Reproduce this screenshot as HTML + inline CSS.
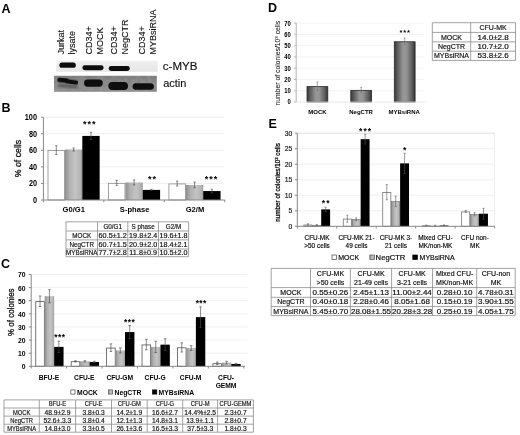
<!DOCTYPE html>
<html><head><meta charset="utf-8"><title>Figure</title>
<style>
html,body{margin:0;padding:0;background:#fff;}
body{width:520px;height:435px;overflow:hidden;}
svg{display:block;font-family:"Liberation Sans", sans-serif;will-change:transform;}
</style></head><body>
<svg width="520" height="435" viewBox="0 0 520 435">
<defs>
<linearGradient id="gGray" x1="0" x2="1" y1="0" y2="0">
<stop offset="0" stop-color="#8e8e8e"/><stop offset="0.25" stop-color="#b0b0b0"/><stop offset="0.6" stop-color="#c4c4c4"/><stop offset="0.9" stop-color="#b2b2b2"/><stop offset="1" stop-color="#979797"/>
</linearGradient>
<linearGradient id="gDark" x1="0" x2="1" y1="0" y2="0">
<stop offset="0" stop-color="#383838"/><stop offset="0.12" stop-color="#555"/><stop offset="0.42" stop-color="#979797"/><stop offset="0.58" stop-color="#959595"/><stop offset="0.85" stop-color="#5e5e5e"/><stop offset="1" stop-color="#333"/>
</linearGradient>
<filter id="bl" x="-30%" y="-80%" width="160%" height="260%"><feGaussianBlur stdDeviation="0.65"/></filter>
<filter id="bl2" x="-30%" y="-80%" width="160%" height="260%"><feGaussianBlur stdDeviation="1.2"/></filter>
<linearGradient id="gActin" x1="0" x2="0" y1="0" y2="1"><stop offset="0" stop-color="#747474"/><stop offset="0.5" stop-color="#808080"/><stop offset="1" stop-color="#868686"/></linearGradient>
<linearGradient id="gMyb" x1="0" x2="0" y1="0" y2="1"><stop offset="0" stop-color="#f0f0f0"/><stop offset="1" stop-color="#e6e6e6"/></linearGradient>
<filter id="noise" x="0" y="0" width="100%" height="100%">
<feTurbulence type="fractalNoise" baseFrequency="0.25" numOctaves="2" seed="3" result="t"/>
<feColorMatrix in="t" type="matrix" values="0 0 0 0 0.55  0 0 0 0 0.55  0 0 0 0 0.55  0 0 0 0.25 0" result="n"/>
<feComposite in="n" in2="SourceGraphic" operator="in" result="m"/>
<feMerge><feMergeNode in="SourceGraphic"/><feMergeNode in="m"/></feMerge>
</filter>
</defs>
<text x="1.60" y="13.40" font-size="12.5" font-weight="bold" text-anchor="start" fill="#000" >A</text>
<text transform="translate(64.00,54.60) rotate(-90) scale(0.94,1)" font-size="9.6" text-anchor="start" fill="#111" stroke="#111" stroke-width="0.12">Jurkat</text>
<text transform="translate(75.00,54.60) rotate(-90) scale(0.94,1)" font-size="9.6" text-anchor="start" fill="#111" stroke="#111" stroke-width="0.12">lysate</text>
<text transform="translate(92.30,54.60) rotate(-90) scale(0.94,1)" font-size="9.6" text-anchor="start" fill="#111" stroke="#111" stroke-width="0.12">CD34+</text>
<text transform="translate(102.60,54.60) rotate(-90) scale(0.94,1)" font-size="9.6" text-anchor="start" fill="#111" stroke="#111" stroke-width="0.12">MOCK</text>
<text transform="translate(117.20,54.60) rotate(-90) scale(0.94,1)" font-size="9.6" text-anchor="start" fill="#111" stroke="#111" stroke-width="0.12">CD34+</text>
<text transform="translate(127.80,54.60) rotate(-90) scale(0.94,1)" font-size="9.6" text-anchor="start" fill="#111" stroke="#111" stroke-width="0.12">NegCTR</text>
<text transform="translate(145.20,54.60) rotate(-90) scale(0.94,1)" font-size="9.6" text-anchor="start" fill="#111" stroke="#111" stroke-width="0.12">CD34+</text>
<text transform="translate(156.00,54.60) rotate(-90) scale(0.94,1)" font-size="9.6" text-anchor="start" fill="#111" stroke="#111" stroke-width="0.12">MYBsiRNA</text>
<rect x="56.30" y="60.90" width="101.40" height="10.90" fill="url(#gMyb)" stroke="none" stroke-width="1" />
<rect x="54.00" y="75.80" width="102.80" height="16.00" fill="url(#gActin)" stroke="none" stroke-width="1" filter="url(#noise)"/>
<rect x="59.40" y="62.60" width="16.40" height="5.20" rx="2.60" ry="2.60" fill="#0a0a0a" filter="url(#bl)" transform="rotate(0 67.60 65.20)"/>
<rect x="82.40" y="65.25" width="21.20" height="4.90" rx="2.45" ry="2.45" fill="#0a0a0a" filter="url(#bl)" transform="rotate(0 93.00 67.70)"/>
<rect x="108.70" y="66.05" width="21.10" height="4.90" rx="2.45" ry="2.45" fill="#0a0a0a" filter="url(#bl)" transform="rotate(0 119.25 68.50)"/>
<rect x="58.00" y="84.50" width="20.00" height="3.00" rx="1.50" ry="1.50" fill="#555" filter="url(#bl2)" transform="rotate(4 68.00 86.00)"/>
<rect x="57.40" y="78.00" width="11.60" height="4.40" rx="2.20" ry="2.20" fill="#0a0a0a" filter="url(#bl)" transform="rotate(5 63.20 80.20)"/>
<rect x="65.00" y="79.70" width="13.20" height="4.40" rx="2.20" ry="2.20" fill="#0a0a0a" filter="url(#bl)" transform="rotate(7 71.60 81.90)"/>
<rect x="84.00" y="79.50" width="18.80" height="7.20" rx="3.60" ry="3.60" fill="#0a0a0a" filter="url(#bl)" transform="rotate(0 93.40 83.10)"/>
<rect x="108.40" y="82.10" width="19.60" height="7.80" rx="3.90" ry="3.90" fill="#0a0a0a" filter="url(#bl)" transform="rotate(0 118.20 86.00)"/>
<rect x="132.60" y="83.20" width="21.20" height="6.60" rx="3.30" ry="3.30" fill="#0a0a0a" filter="url(#bl)" transform="rotate(0 143.20 86.50)"/>
<text transform="translate(162.8,70.3) scale(1.05,1)" font-size="11" fill="#111" stroke="#111" stroke-width="0.15">c-MYB</text>
<text x="163.2" y="87.4" font-size="11" fill="#111" stroke="#111" stroke-width="0.15">actin</text>
<line x1="43.40" y1="183.44" x2="224.50" y2="183.44" stroke="#ececec" stroke-width="0.8"/>
<line x1="43.40" y1="166.88" x2="224.50" y2="166.88" stroke="#ececec" stroke-width="0.8"/>
<line x1="43.40" y1="150.32" x2="224.50" y2="150.32" stroke="#ececec" stroke-width="0.8"/>
<line x1="43.40" y1="133.76" x2="224.50" y2="133.76" stroke="#ececec" stroke-width="0.8"/>
<line x1="43.40" y1="117.20" x2="224.50" y2="117.20" stroke="#ececec" stroke-width="0.8"/>
<rect x="48.00" y="150.47" width="16.55" height="49.53" fill="#fff" stroke="#8c8c8c" stroke-width="0.8" />
<line x1="56.28" y1="145.68" x2="56.28" y2="154.46" stroke="#4a4a4a" stroke-width="0.65"/>
<line x1="55.18" y1="145.68" x2="57.38" y2="145.68" stroke="#4a4a4a" stroke-width="0.65"/>
<line x1="55.18" y1="154.46" x2="57.38" y2="154.46" stroke="#4a4a4a" stroke-width="0.65"/>
<rect x="64.95" y="149.49" width="17.35" height="50.51" fill="url(#gGray)" stroke="none" stroke-width="1" />
<line x1="73.62" y1="148.00" x2="73.62" y2="150.98" stroke="#4a4a4a" stroke-width="0.65"/>
<line x1="72.53" y1="148.00" x2="74.72" y2="148.00" stroke="#4a4a4a" stroke-width="0.65"/>
<line x1="72.53" y1="150.98" x2="74.72" y2="150.98" stroke="#4a4a4a" stroke-width="0.65"/>
<rect x="82.30" y="135.91" width="17.35" height="64.09" fill="#000" stroke="none" stroke-width="1" />
<line x1="90.98" y1="132.27" x2="90.98" y2="139.56" stroke="#4a4a4a" stroke-width="0.65"/>
<line x1="89.88" y1="132.27" x2="92.08" y2="132.27" stroke="#4a4a4a" stroke-width="0.65"/>
<line x1="89.88" y1="139.56" x2="92.08" y2="139.56" stroke="#4a4a4a" stroke-width="0.65"/>
<rect x="108.45" y="183.34" width="16.55" height="16.66" fill="#fff" stroke="#8c8c8c" stroke-width="0.8" />
<line x1="116.72" y1="180.29" x2="116.72" y2="185.59" stroke="#4a4a4a" stroke-width="0.65"/>
<line x1="115.62" y1="180.29" x2="117.82" y2="180.29" stroke="#4a4a4a" stroke-width="0.65"/>
<line x1="115.62" y1="185.59" x2="117.82" y2="185.59" stroke="#4a4a4a" stroke-width="0.65"/>
<rect x="125.40" y="182.45" width="17.35" height="17.55" fill="url(#gGray)" stroke="none" stroke-width="1" />
<line x1="134.08" y1="179.96" x2="134.08" y2="184.93" stroke="#4a4a4a" stroke-width="0.65"/>
<line x1="132.98" y1="179.96" x2="135.18" y2="179.96" stroke="#4a4a4a" stroke-width="0.65"/>
<line x1="132.98" y1="184.93" x2="135.18" y2="184.93" stroke="#4a4a4a" stroke-width="0.65"/>
<rect x="142.75" y="189.90" width="17.35" height="10.10" fill="#000" stroke="none" stroke-width="1" />
<line x1="151.43" y1="189.32" x2="151.43" y2="190.48" stroke="#4a4a4a" stroke-width="0.65"/>
<line x1="150.33" y1="189.32" x2="152.53" y2="189.32" stroke="#4a4a4a" stroke-width="0.65"/>
<line x1="150.33" y1="190.48" x2="152.53" y2="190.48" stroke="#4a4a4a" stroke-width="0.65"/>
<rect x="168.90" y="183.92" width="16.55" height="16.08" fill="#fff" stroke="#8c8c8c" stroke-width="0.8" />
<line x1="177.18" y1="181.04" x2="177.18" y2="186.01" stroke="#4a4a4a" stroke-width="0.65"/>
<line x1="176.08" y1="181.04" x2="178.28" y2="181.04" stroke="#4a4a4a" stroke-width="0.65"/>
<line x1="176.08" y1="186.01" x2="178.28" y2="186.01" stroke="#4a4a4a" stroke-width="0.65"/>
<rect x="185.85" y="185.01" width="17.35" height="14.99" fill="url(#gGray)" stroke="none" stroke-width="1" />
<line x1="194.53" y1="182.12" x2="194.53" y2="187.91" stroke="#4a4a4a" stroke-width="0.65"/>
<line x1="193.43" y1="182.12" x2="195.62" y2="182.12" stroke="#4a4a4a" stroke-width="0.65"/>
<line x1="193.43" y1="187.91" x2="195.62" y2="187.91" stroke="#4a4a4a" stroke-width="0.65"/>
<rect x="203.20" y="191.06" width="17.35" height="8.94" fill="#000" stroke="none" stroke-width="1" />
<line x1="211.88" y1="189.24" x2="211.88" y2="192.88" stroke="#4a4a4a" stroke-width="0.65"/>
<line x1="210.78" y1="189.24" x2="212.97" y2="189.24" stroke="#4a4a4a" stroke-width="0.65"/>
<line x1="210.78" y1="192.88" x2="212.97" y2="192.88" stroke="#4a4a4a" stroke-width="0.65"/>
<line x1="43.40" y1="117.20" x2="43.40" y2="202.20" stroke="#888" stroke-width="1"/>
<line x1="43.40" y1="200.00" x2="224.80" y2="200.00" stroke="#888" stroke-width="1"/>
<line x1="41.00" y1="200.00" x2="43.40" y2="200.00" stroke="#888" stroke-width="1"/>
<line x1="41.00" y1="183.44" x2="43.40" y2="183.44" stroke="#888" stroke-width="1"/>
<line x1="41.00" y1="166.88" x2="43.40" y2="166.88" stroke="#888" stroke-width="1"/>
<line x1="41.00" y1="150.32" x2="43.40" y2="150.32" stroke="#888" stroke-width="1"/>
<line x1="41.00" y1="133.76" x2="43.40" y2="133.76" stroke="#888" stroke-width="1"/>
<line x1="41.00" y1="117.20" x2="43.40" y2="117.20" stroke="#888" stroke-width="1"/>
<line x1="103.85" y1="200.00" x2="103.85" y2="202.20" stroke="#888" stroke-width="1"/>
<line x1="164.30" y1="200.00" x2="164.30" y2="202.20" stroke="#888" stroke-width="1"/>
<line x1="224.75" y1="200.00" x2="224.75" y2="202.20" stroke="#888" stroke-width="1"/>
<text transform="translate(37.00,203.00) scale(0.87,1)" font-size="8.4" font-weight="bold" text-anchor="end" fill="#000">0</text>
<text transform="translate(37.00,186.44) scale(0.87,1)" font-size="8.4" font-weight="bold" text-anchor="end" fill="#000">20</text>
<text transform="translate(37.00,169.88) scale(0.87,1)" font-size="8.4" font-weight="bold" text-anchor="end" fill="#000">40</text>
<text transform="translate(37.00,153.32) scale(0.87,1)" font-size="8.4" font-weight="bold" text-anchor="end" fill="#000">60</text>
<text transform="translate(37.00,136.76) scale(0.87,1)" font-size="8.4" font-weight="bold" text-anchor="end" fill="#000">80</text>
<text transform="translate(37.00,120.20) scale(0.87,1)" font-size="8.4" font-weight="bold" text-anchor="end" fill="#000">100</text>
<text x="1.40" y="112.20" font-size="12.5" font-weight="bold" text-anchor="start" fill="#000" >B</text>
<text transform="translate(21.00,158.50) rotate(-90) scale(0.93,1)" font-size="9.4" text-anchor="middle" fill="#111" stroke="#111" stroke-width="0.3">% of cells</text>
<text x="73.70" y="212.20" font-size="7.6" font-weight="bold" text-anchor="middle" fill="#000" >G0/G1</text>
<text x="134.60" y="212.20" font-size="7.6" font-weight="bold" text-anchor="middle" fill="#000" >S-phase</text>
<text x="195.00" y="212.20" font-size="7.6" font-weight="bold" text-anchor="middle" fill="#000" >G2/M</text>
<text x="84.80" y="127.38" font-size="9.0" font-weight="bold" text-anchor="middle" fill="#000">*</text>
<text x="89.30" y="127.38" font-size="9.0" font-weight="bold" text-anchor="middle" fill="#000">*</text>
<text x="93.80" y="127.38" font-size="9.0" font-weight="bold" text-anchor="middle" fill="#000">*</text>
<text x="149.85" y="181.88" font-size="9.0" font-weight="bold" text-anchor="middle" fill="#000">*</text>
<text x="154.35" y="181.88" font-size="9.0" font-weight="bold" text-anchor="middle" fill="#000">*</text>
<text x="206.50" y="182.18" font-size="9.0" font-weight="bold" text-anchor="middle" fill="#000">*</text>
<text x="211.00" y="182.18" font-size="9.0" font-weight="bold" text-anchor="middle" fill="#000">*</text>
<text x="215.50" y="182.18" font-size="9.0" font-weight="bold" text-anchor="middle" fill="#000">*</text>
<line x1="31.20" y1="353.18" x2="247.50" y2="353.18" stroke="#ececec" stroke-width="0.8"/>
<line x1="31.20" y1="340.06" x2="247.50" y2="340.06" stroke="#ececec" stroke-width="0.8"/>
<line x1="31.20" y1="326.94" x2="247.50" y2="326.94" stroke="#ececec" stroke-width="0.8"/>
<line x1="31.20" y1="313.82" x2="247.50" y2="313.82" stroke="#ececec" stroke-width="0.8"/>
<line x1="31.20" y1="300.70" x2="247.50" y2="300.70" stroke="#ececec" stroke-width="0.8"/>
<line x1="31.20" y1="287.58" x2="247.50" y2="287.58" stroke="#ececec" stroke-width="0.8"/>
<line x1="31.20" y1="274.46" x2="247.50" y2="274.46" stroke="#ececec" stroke-width="0.8"/>
<rect x="35.75" y="301.62" width="8.60" height="64.68" fill="#fff" stroke="#555" stroke-width="0.8" />
<line x1="40.05" y1="295.98" x2="40.05" y2="306.47" stroke="#4a4a4a" stroke-width="0.65"/>
<line x1="38.75" y1="295.98" x2="41.35" y2="295.98" stroke="#4a4a4a" stroke-width="0.65"/>
<line x1="38.75" y1="306.47" x2="41.35" y2="306.47" stroke="#4a4a4a" stroke-width="0.65"/>
<rect x="44.75" y="296.24" width="9.40" height="70.06" fill="url(#gGray)" stroke="none" stroke-width="1" />
<line x1="49.45" y1="289.68" x2="49.45" y2="302.80" stroke="#4a4a4a" stroke-width="0.65"/>
<line x1="48.15" y1="289.68" x2="50.75" y2="289.68" stroke="#4a4a4a" stroke-width="0.65"/>
<line x1="48.15" y1="302.80" x2="50.75" y2="302.80" stroke="#4a4a4a" stroke-width="0.65"/>
<rect x="54.15" y="346.88" width="9.40" height="19.42" fill="#000" stroke="none" stroke-width="1" />
<line x1="58.85" y1="341.24" x2="58.85" y2="352.52" stroke="#4a4a4a" stroke-width="0.65"/>
<line x1="57.55" y1="341.24" x2="60.15" y2="341.24" stroke="#4a4a4a" stroke-width="0.65"/>
<line x1="57.55" y1="352.52" x2="60.15" y2="352.52" stroke="#4a4a4a" stroke-width="0.65"/>
<rect x="71.18" y="361.71" width="8.60" height="4.59" fill="#fff" stroke="#555" stroke-width="0.8" />
<line x1="75.48" y1="360.79" x2="75.48" y2="361.84" stroke="#4a4a4a" stroke-width="0.65"/>
<line x1="74.18" y1="360.79" x2="76.78" y2="360.79" stroke="#4a4a4a" stroke-width="0.65"/>
<line x1="74.18" y1="361.84" x2="76.78" y2="361.84" stroke="#4a4a4a" stroke-width="0.65"/>
<rect x="80.18" y="361.31" width="9.40" height="4.99" fill="url(#gGray)" stroke="none" stroke-width="1" />
<line x1="84.88" y1="360.66" x2="84.88" y2="361.97" stroke="#4a4a4a" stroke-width="0.65"/>
<line x1="83.58" y1="360.66" x2="86.18" y2="360.66" stroke="#4a4a4a" stroke-width="0.65"/>
<line x1="83.58" y1="361.97" x2="86.18" y2="361.97" stroke="#4a4a4a" stroke-width="0.65"/>
<rect x="89.58" y="361.97" width="9.40" height="4.33" fill="#000" stroke="none" stroke-width="1" />
<line x1="94.28" y1="361.31" x2="94.28" y2="362.63" stroke="#4a4a4a" stroke-width="0.65"/>
<line x1="92.98" y1="361.31" x2="95.58" y2="361.31" stroke="#4a4a4a" stroke-width="0.65"/>
<line x1="92.98" y1="362.63" x2="95.58" y2="362.63" stroke="#4a4a4a" stroke-width="0.65"/>
<rect x="106.61" y="348.07" width="8.60" height="18.23" fill="#fff" stroke="#555" stroke-width="0.8" />
<line x1="110.91" y1="343.86" x2="110.91" y2="351.47" stroke="#4a4a4a" stroke-width="0.65"/>
<line x1="109.61" y1="343.86" x2="112.21" y2="343.86" stroke="#4a4a4a" stroke-width="0.65"/>
<line x1="109.61" y1="351.47" x2="112.21" y2="351.47" stroke="#4a4a4a" stroke-width="0.65"/>
<rect x="115.61" y="350.42" width="9.40" height="15.88" fill="url(#gGray)" stroke="none" stroke-width="1" />
<line x1="120.31" y1="347.93" x2="120.31" y2="352.92" stroke="#4a4a4a" stroke-width="0.65"/>
<line x1="119.01" y1="347.93" x2="121.61" y2="347.93" stroke="#4a4a4a" stroke-width="0.65"/>
<line x1="119.01" y1="352.92" x2="121.61" y2="352.92" stroke="#4a4a4a" stroke-width="0.65"/>
<rect x="125.01" y="332.06" width="9.40" height="34.24" fill="#000" stroke="none" stroke-width="1" />
<line x1="129.71" y1="325.50" x2="129.71" y2="338.62" stroke="#4a4a4a" stroke-width="0.65"/>
<line x1="128.41" y1="325.50" x2="131.01" y2="325.50" stroke="#4a4a4a" stroke-width="0.65"/>
<line x1="128.41" y1="338.62" x2="131.01" y2="338.62" stroke="#4a4a4a" stroke-width="0.65"/>
<rect x="142.04" y="344.92" width="8.60" height="21.38" fill="#fff" stroke="#555" stroke-width="0.8" />
<line x1="146.34" y1="339.27" x2="146.34" y2="349.77" stroke="#4a4a4a" stroke-width="0.65"/>
<line x1="145.04" y1="339.27" x2="147.64" y2="339.27" stroke="#4a4a4a" stroke-width="0.65"/>
<line x1="145.04" y1="349.77" x2="147.64" y2="349.77" stroke="#4a4a4a" stroke-width="0.65"/>
<rect x="151.04" y="346.88" width="9.40" height="19.42" fill="url(#gGray)" stroke="none" stroke-width="1" />
<line x1="155.74" y1="341.24" x2="155.74" y2="352.52" stroke="#4a4a4a" stroke-width="0.65"/>
<line x1="154.44" y1="341.24" x2="157.04" y2="341.24" stroke="#4a4a4a" stroke-width="0.65"/>
<line x1="154.44" y1="352.52" x2="157.04" y2="352.52" stroke="#4a4a4a" stroke-width="0.65"/>
<rect x="160.44" y="344.65" width="9.40" height="21.65" fill="#000" stroke="none" stroke-width="1" />
<line x1="165.14" y1="338.75" x2="165.14" y2="350.56" stroke="#4a4a4a" stroke-width="0.65"/>
<line x1="163.84" y1="338.75" x2="166.44" y2="338.75" stroke="#4a4a4a" stroke-width="0.65"/>
<line x1="163.84" y1="350.56" x2="166.44" y2="350.56" stroke="#4a4a4a" stroke-width="0.65"/>
<rect x="177.47" y="347.81" width="8.60" height="18.49" fill="#fff" stroke="#555" stroke-width="0.8" />
<line x1="181.77" y1="342.82" x2="181.77" y2="352.00" stroke="#4a4a4a" stroke-width="0.65"/>
<line x1="180.47" y1="342.82" x2="183.07" y2="342.82" stroke="#4a4a4a" stroke-width="0.65"/>
<line x1="180.47" y1="352.00" x2="183.07" y2="352.00" stroke="#4a4a4a" stroke-width="0.65"/>
<rect x="186.47" y="348.06" width="9.40" height="18.24" fill="url(#gGray)" stroke="none" stroke-width="1" />
<line x1="191.17" y1="345.70" x2="191.17" y2="350.42" stroke="#4a4a4a" stroke-width="0.65"/>
<line x1="189.87" y1="345.70" x2="192.47" y2="345.70" stroke="#4a4a4a" stroke-width="0.65"/>
<line x1="189.87" y1="350.42" x2="192.47" y2="350.42" stroke="#4a4a4a" stroke-width="0.65"/>
<rect x="195.87" y="317.10" width="9.40" height="49.20" fill="#000" stroke="none" stroke-width="1" />
<line x1="200.57" y1="306.87" x2="200.57" y2="327.33" stroke="#4a4a4a" stroke-width="0.65"/>
<line x1="199.27" y1="306.87" x2="201.87" y2="306.87" stroke="#4a4a4a" stroke-width="0.65"/>
<line x1="199.27" y1="327.33" x2="201.87" y2="327.33" stroke="#4a4a4a" stroke-width="0.65"/>
<rect x="212.90" y="363.68" width="8.60" height="2.62" fill="#fff" stroke="#555" stroke-width="0.8" />
<line x1="217.20" y1="361.97" x2="217.20" y2="364.59" stroke="#4a4a4a" stroke-width="0.65"/>
<line x1="215.90" y1="361.97" x2="218.50" y2="361.97" stroke="#4a4a4a" stroke-width="0.65"/>
<line x1="215.90" y1="364.59" x2="218.50" y2="364.59" stroke="#4a4a4a" stroke-width="0.65"/>
<rect x="221.90" y="362.63" width="9.40" height="3.67" fill="url(#gGray)" stroke="none" stroke-width="1" />
<line x1="226.60" y1="361.31" x2="226.60" y2="363.94" stroke="#4a4a4a" stroke-width="0.65"/>
<line x1="225.30" y1="361.31" x2="227.90" y2="361.31" stroke="#4a4a4a" stroke-width="0.65"/>
<line x1="225.30" y1="363.94" x2="227.90" y2="363.94" stroke="#4a4a4a" stroke-width="0.65"/>
<rect x="231.30" y="363.94" width="9.40" height="2.36" fill="#000" stroke="none" stroke-width="1" />
<line x1="236.00" y1="363.41" x2="236.00" y2="364.46" stroke="#4a4a4a" stroke-width="0.65"/>
<line x1="234.70" y1="363.41" x2="237.30" y2="363.41" stroke="#4a4a4a" stroke-width="0.65"/>
<line x1="234.70" y1="364.46" x2="237.30" y2="364.46" stroke="#4a4a4a" stroke-width="0.65"/>
<line x1="31.20" y1="274.46" x2="31.20" y2="368.50" stroke="#888" stroke-width="1"/>
<line x1="31.20" y1="366.30" x2="245.00" y2="366.30" stroke="#888" stroke-width="1"/>
<line x1="28.80" y1="366.30" x2="31.20" y2="366.30" stroke="#888" stroke-width="1"/>
<line x1="28.80" y1="353.18" x2="31.20" y2="353.18" stroke="#888" stroke-width="1"/>
<line x1="28.80" y1="340.06" x2="31.20" y2="340.06" stroke="#888" stroke-width="1"/>
<line x1="28.80" y1="326.94" x2="31.20" y2="326.94" stroke="#888" stroke-width="1"/>
<line x1="28.80" y1="313.82" x2="31.20" y2="313.82" stroke="#888" stroke-width="1"/>
<line x1="28.80" y1="300.70" x2="31.20" y2="300.70" stroke="#888" stroke-width="1"/>
<line x1="28.80" y1="287.58" x2="31.20" y2="287.58" stroke="#888" stroke-width="1"/>
<line x1="28.80" y1="274.46" x2="31.20" y2="274.46" stroke="#888" stroke-width="1"/>
<line x1="66.63" y1="366.30" x2="66.63" y2="368.50" stroke="#888" stroke-width="1"/>
<line x1="102.06" y1="366.30" x2="102.06" y2="368.50" stroke="#888" stroke-width="1"/>
<line x1="137.49" y1="366.30" x2="137.49" y2="368.50" stroke="#888" stroke-width="1"/>
<line x1="172.92" y1="366.30" x2="172.92" y2="368.50" stroke="#888" stroke-width="1"/>
<line x1="208.35" y1="366.30" x2="208.35" y2="368.50" stroke="#888" stroke-width="1"/>
<line x1="243.78" y1="366.30" x2="243.78" y2="368.50" stroke="#888" stroke-width="1"/>
<text transform="translate(25.60,369.30) scale(1.0,1)" font-size="6.8" font-weight="bold" text-anchor="end" fill="#000">0</text>
<text transform="translate(25.60,356.18) scale(1.0,1)" font-size="6.8" font-weight="bold" text-anchor="end" fill="#000">10</text>
<text transform="translate(25.60,343.06) scale(1.0,1)" font-size="6.8" font-weight="bold" text-anchor="end" fill="#000">20</text>
<text transform="translate(25.60,329.94) scale(1.0,1)" font-size="6.8" font-weight="bold" text-anchor="end" fill="#000">30</text>
<text transform="translate(25.60,316.82) scale(1.0,1)" font-size="6.8" font-weight="bold" text-anchor="end" fill="#000">40</text>
<text transform="translate(25.60,303.70) scale(1.0,1)" font-size="6.8" font-weight="bold" text-anchor="end" fill="#000">50</text>
<text transform="translate(25.60,290.58) scale(1.0,1)" font-size="6.8" font-weight="bold" text-anchor="end" fill="#000">60</text>
<text transform="translate(25.60,277.46) scale(1.0,1)" font-size="6.8" font-weight="bold" text-anchor="end" fill="#000">70</text>
<text x="1.00" y="268.20" font-size="12.5" font-weight="bold" text-anchor="start" fill="#000" >C</text>
<text transform="translate(14.20,312.20) rotate(-90) scale(0.93,1)" font-size="8.6" text-anchor="middle" fill="#111" stroke="#111" stroke-width="0.3">% of colonies</text>
<text x="48.91" y="380.00" font-size="6.7" font-weight="bold" text-anchor="middle" fill="#000" >BFU-E</text>
<text x="84.34" y="380.00" font-size="6.7" font-weight="bold" text-anchor="middle" fill="#000" >CFU-E</text>
<text x="119.78" y="380.00" font-size="6.7" font-weight="bold" text-anchor="middle" fill="#000" >CFU-GM</text>
<text x="155.20" y="380.00" font-size="6.7" font-weight="bold" text-anchor="middle" fill="#000" >CFU-G</text>
<text x="190.63" y="380.00" font-size="6.7" font-weight="bold" text-anchor="middle" fill="#000" >CFU-M</text>
<text x="226.06" y="379.60" font-size="6.7" font-weight="bold" text-anchor="middle" fill="#000" >CFU-</text>
<text x="226.06" y="388.20" font-size="6.7" font-weight="bold" text-anchor="middle" fill="#000" >GEMM</text>
<text x="55.90" y="339.77" font-size="8.4" font-weight="bold" text-anchor="middle" fill="#000">*</text>
<text x="59.60" y="339.77" font-size="8.4" font-weight="bold" text-anchor="middle" fill="#000">*</text>
<text x="63.30" y="339.77" font-size="8.4" font-weight="bold" text-anchor="middle" fill="#000">*</text>
<text x="125.70" y="325.17" font-size="8.4" font-weight="bold" text-anchor="middle" fill="#000">*</text>
<text x="129.40" y="325.17" font-size="8.4" font-weight="bold" text-anchor="middle" fill="#000">*</text>
<text x="133.10" y="325.17" font-size="8.4" font-weight="bold" text-anchor="middle" fill="#000">*</text>
<text x="197.30" y="305.87" font-size="8.4" font-weight="bold" text-anchor="middle" fill="#000">*</text>
<text x="201.00" y="305.87" font-size="8.4" font-weight="bold" text-anchor="middle" fill="#000">*</text>
<text x="204.70" y="305.87" font-size="8.4" font-weight="bold" text-anchor="middle" fill="#000">*</text>
<rect x="70.80" y="389.90" width="4.20" height="4.20" fill="#fff" stroke="#444" stroke-width="0.7" />
<text x="77.00" y="394.60" font-size="6.8" font-weight="bold" text-anchor="start" fill="#000" >MOCK</text>
<rect x="108.40" y="389.90" width="4.20" height="4.20" fill="url(#gGray)" stroke="#555" stroke-width="0.7" />
<text x="114.50" y="394.60" font-size="6.8" font-weight="bold" text-anchor="start" fill="#000" >NegCTR</text>
<rect x="152.60" y="389.90" width="4.20" height="4.20" fill="#000" stroke="#000" stroke-width="0.7" />
<text x="158.60" y="394.60" font-size="6.8" font-weight="bold" text-anchor="start" fill="#000" >MYBsiRNA</text>
<line x1="296.20" y1="90.73" x2="424.00" y2="90.73" stroke="#efefef" stroke-width="0.8"/>
<line x1="296.20" y1="79.46" x2="424.00" y2="79.46" stroke="#efefef" stroke-width="0.8"/>
<line x1="296.20" y1="68.19" x2="424.00" y2="68.19" stroke="#efefef" stroke-width="0.8"/>
<line x1="296.20" y1="56.92" x2="424.00" y2="56.92" stroke="#efefef" stroke-width="0.8"/>
<line x1="296.20" y1="45.65" x2="424.00" y2="45.65" stroke="#efefef" stroke-width="0.8"/>
<line x1="296.20" y1="34.38" x2="424.00" y2="34.38" stroke="#efefef" stroke-width="0.8"/>
<line x1="296.20" y1="23.11" x2="424.00" y2="23.11" stroke="#efefef" stroke-width="0.8"/>
<rect x="307.00" y="86.62" width="20.80" height="15.38" fill="url(#gDark)" stroke="#2a2a2a" stroke-width="0.8" />
<line x1="317.40" y1="81.94" x2="317.40" y2="90.50" stroke="#707070" stroke-width="0.6"/>
<line x1="316.50" y1="81.94" x2="318.30" y2="81.94" stroke="#707070" stroke-width="0.6"/>
<line x1="316.50" y1="90.50" x2="318.30" y2="90.50" stroke="#707070" stroke-width="0.6"/>
<rect x="350.80" y="90.34" width="20.80" height="11.66" fill="url(#gDark)" stroke="#2a2a2a" stroke-width="0.8" />
<line x1="361.20" y1="87.35" x2="361.20" y2="92.53" stroke="#707070" stroke-width="0.6"/>
<line x1="360.30" y1="87.35" x2="362.10" y2="87.35" stroke="#707070" stroke-width="0.6"/>
<line x1="360.30" y1="92.53" x2="362.10" y2="92.53" stroke="#707070" stroke-width="0.6"/>
<rect x="394.30" y="41.77" width="20.80" height="60.23" fill="url(#gDark)" stroke="#2a2a2a" stroke-width="0.8" />
<line x1="404.70" y1="37.99" x2="404.70" y2="44.75" stroke="#707070" stroke-width="0.6"/>
<line x1="403.80" y1="37.99" x2="405.60" y2="37.99" stroke="#707070" stroke-width="0.6"/>
<line x1="403.80" y1="44.75" x2="405.60" y2="44.75" stroke="#707070" stroke-width="0.6"/>
<line x1="296.20" y1="23.11" x2="296.20" y2="102.00" stroke="#b4b4b4" stroke-width="1"/>
<line x1="296.20" y1="102.00" x2="426.50" y2="102.00" stroke="#e4e4e4" stroke-width="0.8"/>
<line x1="294.20" y1="102.00" x2="296.20" y2="102.00" stroke="#b4b4b4" stroke-width="1"/>
<text transform="translate(290.8,104.40) scale(0.92,1)" font-size="6.4" font-weight="bold" text-anchor="end">0</text>
<line x1="294.20" y1="90.73" x2="296.20" y2="90.73" stroke="#b4b4b4" stroke-width="1"/>
<text transform="translate(290.8,93.13) scale(0.92,1)" font-size="6.4" font-weight="bold" text-anchor="end">10</text>
<line x1="294.20" y1="79.46" x2="296.20" y2="79.46" stroke="#b4b4b4" stroke-width="1"/>
<text transform="translate(290.8,81.86) scale(0.92,1)" font-size="6.4" font-weight="bold" text-anchor="end">20</text>
<line x1="294.20" y1="68.19" x2="296.20" y2="68.19" stroke="#b4b4b4" stroke-width="1"/>
<text transform="translate(290.8,70.59) scale(0.92,1)" font-size="6.4" font-weight="bold" text-anchor="end">30</text>
<line x1="294.20" y1="56.92" x2="296.20" y2="56.92" stroke="#b4b4b4" stroke-width="1"/>
<text transform="translate(290.8,59.32) scale(0.92,1)" font-size="6.4" font-weight="bold" text-anchor="end">40</text>
<line x1="294.20" y1="45.65" x2="296.20" y2="45.65" stroke="#b4b4b4" stroke-width="1"/>
<text transform="translate(290.8,48.05) scale(0.92,1)" font-size="6.4" font-weight="bold" text-anchor="end">50</text>
<line x1="294.20" y1="34.38" x2="296.20" y2="34.38" stroke="#b4b4b4" stroke-width="1"/>
<text transform="translate(290.8,36.78) scale(0.92,1)" font-size="6.4" font-weight="bold" text-anchor="end">60</text>
<line x1="294.20" y1="23.11" x2="296.20" y2="23.11" stroke="#b4b4b4" stroke-width="1"/>
<text transform="translate(290.8,25.51) scale(0.92,1)" font-size="6.4" font-weight="bold" text-anchor="end">70</text>
<text x="268.00" y="12.20" font-size="12.5" font-weight="bold" text-anchor="start" fill="#000" >D</text>
<text transform="translate(280.0,63.1) rotate(-90) scale(1.03,1)" font-size="6.6" text-anchor="middle" fill="#111" stroke="#111" stroke-width="0.05">number of colonies/10<tspan font-size="4.2" dy="-2.4">3</tspan><tspan dy="2.4"> cells</tspan></text>
<text x="317.50" y="114.20" font-size="6.0" font-weight="bold" text-anchor="middle" fill="#000" >MOCK</text>
<text x="361.10" y="114.20" font-size="6.0" font-weight="bold" text-anchor="middle" fill="#000" >NegCTR</text>
<text x="404.20" y="114.20" font-size="6.0" font-weight="bold" text-anchor="middle" fill="#000" >MYBsiRNA</text>
<text x="401.10" y="34.85" font-size="7.6" font-weight="bold" text-anchor="middle" fill="#000">*</text>
<text x="404.80" y="34.85" font-size="7.6" font-weight="bold" text-anchor="middle" fill="#000">*</text>
<text x="408.50" y="34.85" font-size="7.6" font-weight="bold" text-anchor="middle" fill="#000">*</text>
<line x1="297.30" y1="210.79" x2="494.60" y2="210.79" stroke="#ececec" stroke-width="0.8"/>
<line x1="297.30" y1="195.27" x2="494.60" y2="195.27" stroke="#ececec" stroke-width="0.8"/>
<line x1="297.30" y1="179.75" x2="494.60" y2="179.75" stroke="#ececec" stroke-width="0.8"/>
<line x1="297.30" y1="164.24" x2="494.60" y2="164.24" stroke="#ececec" stroke-width="0.8"/>
<line x1="297.30" y1="148.73" x2="494.60" y2="148.73" stroke="#ececec" stroke-width="0.8"/>
<line x1="297.30" y1="133.21" x2="494.60" y2="133.21" stroke="#d8d8d8" stroke-width="0.8"/>
<line x1="494.60" y1="133.21" x2="494.60" y2="226.30" stroke="#e8e8e8" stroke-width="0.8"/>
<rect x="303.80" y="224.99" width="8.10" height="1.31" fill="#fff" stroke="#777" stroke-width="0.8" />
<line x1="307.85" y1="223.79" x2="307.85" y2="225.40" stroke="#555" stroke-width="0.6"/>
<line x1="306.85" y1="223.79" x2="308.85" y2="223.79" stroke="#555" stroke-width="0.6"/>
<line x1="306.85" y1="225.40" x2="308.85" y2="225.40" stroke="#555" stroke-width="0.6"/>
<rect x="312.60" y="225.36" width="8.30" height="0.94" fill="url(#gGray)" stroke="#6a6a6a" stroke-width="0.6" />
<line x1="316.75" y1="224.50" x2="316.75" y2="225.62" stroke="#555" stroke-width="0.6"/>
<line x1="315.75" y1="224.50" x2="317.75" y2="224.50" stroke="#555" stroke-width="0.6"/>
<line x1="315.75" y1="225.62" x2="317.75" y2="225.62" stroke="#555" stroke-width="0.6"/>
<rect x="321.20" y="209.39" width="8.90" height="16.91" fill="#000" stroke="none" stroke-width="1" />
<line x1="325.65" y1="207.22" x2="325.65" y2="211.56" stroke="#555" stroke-width="0.6"/>
<line x1="324.65" y1="207.22" x2="326.65" y2="207.22" stroke="#555" stroke-width="0.6"/>
<line x1="324.65" y1="211.56" x2="326.65" y2="211.56" stroke="#555" stroke-width="0.6"/>
<rect x="343.26" y="219.10" width="8.10" height="7.20" fill="#fff" stroke="#777" stroke-width="0.8" />
<line x1="347.31" y1="215.19" x2="347.31" y2="222.20" stroke="#555" stroke-width="0.6"/>
<line x1="346.31" y1="215.19" x2="348.31" y2="215.19" stroke="#555" stroke-width="0.6"/>
<line x1="346.31" y1="222.20" x2="348.31" y2="222.20" stroke="#555" stroke-width="0.6"/>
<rect x="352.06" y="219.53" width="8.30" height="6.77" fill="url(#gGray)" stroke="#6a6a6a" stroke-width="0.6" />
<line x1="356.21" y1="217.80" x2="356.21" y2="220.65" stroke="#555" stroke-width="0.6"/>
<line x1="355.21" y1="217.80" x2="357.21" y2="217.80" stroke="#555" stroke-width="0.6"/>
<line x1="355.21" y1="220.65" x2="357.21" y2="220.65" stroke="#555" stroke-width="0.6"/>
<rect x="360.66" y="139.17" width="8.90" height="87.13" fill="#000" stroke="none" stroke-width="1" />
<line x1="365.11" y1="134.36" x2="365.11" y2="143.98" stroke="#555" stroke-width="0.6"/>
<line x1="364.11" y1="134.36" x2="366.11" y2="134.36" stroke="#555" stroke-width="0.6"/>
<line x1="364.11" y1="143.98" x2="366.11" y2="143.98" stroke="#555" stroke-width="0.6"/>
<rect x="382.72" y="192.57" width="8.10" height="33.73" fill="#fff" stroke="#777" stroke-width="0.8" />
<line x1="386.77" y1="184.60" x2="386.77" y2="199.74" stroke="#555" stroke-width="0.6"/>
<line x1="385.77" y1="184.60" x2="387.77" y2="184.60" stroke="#555" stroke-width="0.6"/>
<line x1="385.77" y1="199.74" x2="387.77" y2="199.74" stroke="#555" stroke-width="0.6"/>
<rect x="391.52" y="201.62" width="8.30" height="24.68" fill="url(#gGray)" stroke="#6a6a6a" stroke-width="0.6" />
<line x1="395.67" y1="196.11" x2="395.67" y2="206.53" stroke="#555" stroke-width="0.6"/>
<line x1="394.67" y1="196.11" x2="396.67" y2="196.11" stroke="#555" stroke-width="0.6"/>
<line x1="394.67" y1="206.53" x2="396.67" y2="206.53" stroke="#555" stroke-width="0.6"/>
<rect x="400.12" y="163.37" width="8.90" height="62.93" fill="#000" stroke="none" stroke-width="1" />
<line x1="404.57" y1="153.19" x2="404.57" y2="173.55" stroke="#555" stroke-width="0.6"/>
<line x1="403.57" y1="153.19" x2="405.57" y2="153.19" stroke="#555" stroke-width="0.6"/>
<line x1="403.57" y1="173.55" x2="405.57" y2="173.55" stroke="#555" stroke-width="0.6"/>
<rect x="422.18" y="225.83" width="8.10" height="0.47" fill="#fff" stroke="#777" stroke-width="0.8" />
<line x1="426.23" y1="225.12" x2="426.23" y2="225.74" stroke="#555" stroke-width="0.6"/>
<line x1="425.23" y1="225.12" x2="427.23" y2="225.12" stroke="#555" stroke-width="0.6"/>
<line x1="425.23" y1="225.74" x2="427.23" y2="225.74" stroke="#555" stroke-width="0.6"/>
<rect x="430.98" y="226.13" width="8.30" height="0.17" fill="url(#gGray)" stroke="#6a6a6a" stroke-width="0.6" />
<line x1="435.13" y1="225.24" x2="435.13" y2="226.42" stroke="#555" stroke-width="0.6"/>
<line x1="434.13" y1="225.24" x2="436.13" y2="225.24" stroke="#555" stroke-width="0.6"/>
<line x1="434.13" y1="226.42" x2="436.13" y2="226.42" stroke="#555" stroke-width="0.6"/>
<rect x="439.58" y="225.52" width="8.90" height="0.78" fill="#000" stroke="none" stroke-width="1" />
<line x1="444.03" y1="224.93" x2="444.03" y2="226.11" stroke="#555" stroke-width="0.6"/>
<line x1="443.03" y1="224.93" x2="445.03" y2="224.93" stroke="#555" stroke-width="0.6"/>
<line x1="443.03" y1="226.11" x2="445.03" y2="226.11" stroke="#555" stroke-width="0.6"/>
<rect x="461.64" y="211.87" width="8.10" height="14.43" fill="#fff" stroke="#777" stroke-width="0.8" />
<line x1="465.69" y1="210.51" x2="465.69" y2="212.43" stroke="#555" stroke-width="0.6"/>
<line x1="464.69" y1="210.51" x2="466.69" y2="210.51" stroke="#555" stroke-width="0.6"/>
<line x1="464.69" y1="212.43" x2="466.69" y2="212.43" stroke="#555" stroke-width="0.6"/>
<rect x="470.44" y="214.50" width="8.30" height="11.80" fill="url(#gGray)" stroke="#6a6a6a" stroke-width="0.6" />
<line x1="474.59" y1="212.65" x2="474.59" y2="215.75" stroke="#555" stroke-width="0.6"/>
<line x1="473.59" y1="212.65" x2="475.59" y2="212.65" stroke="#555" stroke-width="0.6"/>
<line x1="473.59" y1="215.75" x2="475.59" y2="215.75" stroke="#555" stroke-width="0.6"/>
<rect x="479.04" y="213.73" width="8.90" height="12.57" fill="#000" stroke="none" stroke-width="1" />
<line x1="483.49" y1="208.30" x2="483.49" y2="219.16" stroke="#555" stroke-width="0.6"/>
<line x1="482.49" y1="208.30" x2="484.49" y2="208.30" stroke="#555" stroke-width="0.6"/>
<line x1="482.49" y1="219.16" x2="484.49" y2="219.16" stroke="#555" stroke-width="0.6"/>
<line x1="297.30" y1="133.21" x2="297.30" y2="228.50" stroke="#888" stroke-width="1"/>
<line x1="297.30" y1="226.30" x2="494.60" y2="226.30" stroke="#888" stroke-width="1"/>
<line x1="336.76" y1="226.30" x2="336.76" y2="228.50" stroke="#888" stroke-width="1"/>
<line x1="376.22" y1="226.30" x2="376.22" y2="228.50" stroke="#888" stroke-width="1"/>
<line x1="415.68" y1="226.30" x2="415.68" y2="228.50" stroke="#888" stroke-width="1"/>
<line x1="455.14" y1="226.30" x2="455.14" y2="228.50" stroke="#888" stroke-width="1"/>
<line x1="494.60" y1="226.30" x2="494.60" y2="228.50" stroke="#888" stroke-width="1"/>
<line x1="294.90" y1="226.30" x2="297.30" y2="226.30" stroke="#888" stroke-width="1"/>
<text x="292.4" y="228.70" font-size="6.8" text-anchor="end" fill="#111" stroke="#111" stroke-width="0.15">0</text>
<line x1="294.90" y1="210.79" x2="297.30" y2="210.79" stroke="#888" stroke-width="1"/>
<text x="292.4" y="213.19" font-size="6.8" text-anchor="end" fill="#111" stroke="#111" stroke-width="0.15">5</text>
<line x1="294.90" y1="195.27" x2="297.30" y2="195.27" stroke="#888" stroke-width="1"/>
<text x="292.4" y="197.67" font-size="6.8" text-anchor="end" fill="#111" stroke="#111" stroke-width="0.15">10</text>
<line x1="294.90" y1="179.75" x2="297.30" y2="179.75" stroke="#888" stroke-width="1"/>
<text x="292.4" y="182.16" font-size="6.8" text-anchor="end" fill="#111" stroke="#111" stroke-width="0.15">15</text>
<line x1="294.90" y1="164.24" x2="297.30" y2="164.24" stroke="#888" stroke-width="1"/>
<text x="292.4" y="166.64" font-size="6.8" text-anchor="end" fill="#111" stroke="#111" stroke-width="0.15">20</text>
<line x1="294.90" y1="148.73" x2="297.30" y2="148.73" stroke="#888" stroke-width="1"/>
<text x="292.4" y="151.13" font-size="6.8" text-anchor="end" fill="#111" stroke="#111" stroke-width="0.15">25</text>
<line x1="294.90" y1="133.21" x2="297.30" y2="133.21" stroke="#888" stroke-width="1"/>
<text x="292.4" y="135.61" font-size="6.8" text-anchor="end" fill="#111" stroke="#111" stroke-width="0.15">30</text>
<text x="268.40" y="128.20" font-size="12.5" font-weight="bold" text-anchor="start" fill="#000" >E</text>
<text transform="translate(280.0,182.4) rotate(-90) scale(0.97,1)" font-size="6.5" text-anchor="middle" stroke="#000" stroke-width="0.26">number of colonies/10<tspan font-size="4.2" dy="-2.4">3</tspan><tspan dy="2.4"> cells</tspan></text>
<text x="317.03" y="239.50" font-size="6.45" text-anchor="middle" fill="#000" stroke="#000" stroke-width="0.15">CFU-MK</text>
<text x="317.03" y="247.90" font-size="6.45" text-anchor="middle" fill="#000" stroke="#000" stroke-width="0.15">&gt;50 cells</text>
<text x="356.49" y="239.50" font-size="6.45" text-anchor="middle" fill="#000" stroke="#000" stroke-width="0.15">CFU-MK 21-</text>
<text x="356.49" y="247.90" font-size="6.45" text-anchor="middle" fill="#000" stroke="#000" stroke-width="0.15">49 cells</text>
<text x="395.95" y="239.50" font-size="6.45" text-anchor="middle" fill="#000" stroke="#000" stroke-width="0.15">CFU-MK 3-</text>
<text x="395.95" y="247.90" font-size="6.45" text-anchor="middle" fill="#000" stroke="#000" stroke-width="0.15">21 cells</text>
<text x="435.41" y="239.50" font-size="6.45" text-anchor="middle" fill="#000" stroke="#000" stroke-width="0.15">Mixed CFU-</text>
<text x="435.41" y="247.90" font-size="6.45" text-anchor="middle" fill="#000" stroke="#000" stroke-width="0.15">MK/non-MK</text>
<text x="474.87" y="239.50" font-size="6.45" text-anchor="middle" fill="#000" stroke="#000" stroke-width="0.15">CFU non-</text>
<text x="474.87" y="247.90" font-size="6.45" text-anchor="middle" fill="#000" stroke="#000" stroke-width="0.15">MK</text>
<text x="323.45" y="206.42" font-size="8.5" font-weight="bold" text-anchor="middle" fill="#000">*</text>
<text x="327.85" y="206.42" font-size="8.5" font-weight="bold" text-anchor="middle" fill="#000">*</text>
<text x="360.71" y="133.72" font-size="8.5" font-weight="bold" text-anchor="middle" fill="#000">*</text>
<text x="365.11" y="133.72" font-size="8.5" font-weight="bold" text-anchor="middle" fill="#000">*</text>
<text x="369.51" y="133.72" font-size="8.5" font-weight="bold" text-anchor="middle" fill="#000">*</text>
<text x="404.57" y="152.72" font-size="8.5" font-weight="bold" text-anchor="middle" fill="#000">*</text>
<rect x="332.00" y="255.00" width="4.60" height="4.60" fill="#fff" stroke="#444" stroke-width="0.7" />
<text x="338.20" y="259.70" font-size="7.0" text-anchor="start" fill="#000" stroke="#000" stroke-width="0.15">MOCK</text>
<rect x="369.90" y="255.00" width="4.60" height="4.60" fill="url(#gGray)" stroke="#555" stroke-width="0.7" />
<text transform="translate(375.6,259.7) scale(1.08,1)" font-size="7.1" fill="#000" stroke="#000" stroke-width="0.15">NegCTR</text>
<rect x="412.80" y="255.00" width="4.60" height="4.60" fill="#000" stroke="#000" stroke-width="0.7" />
<text x="419.60" y="259.70" font-size="7.0" text-anchor="start" fill="#000" stroke="#000" stroke-width="0.15">MYBsiRNA</text>
<line x1="66.00" y1="221.80" x2="188.60" y2="221.80" stroke="#8a8a8a" stroke-width="0.8"/>
<line x1="66.00" y1="231.00" x2="188.60" y2="231.00" stroke="#8a8a8a" stroke-width="0.8"/>
<line x1="66.00" y1="239.90" x2="188.60" y2="239.90" stroke="#8a8a8a" stroke-width="0.8"/>
<line x1="66.00" y1="249.00" x2="188.60" y2="249.00" stroke="#8a8a8a" stroke-width="0.8"/>
<line x1="66.00" y1="256.70" x2="188.60" y2="256.70" stroke="#8a8a8a" stroke-width="0.8"/>
<line x1="66.00" y1="221.80" x2="66.00" y2="256.70" stroke="#8a8a8a" stroke-width="0.8"/>
<line x1="97.50" y1="221.80" x2="97.50" y2="256.70" stroke="#8a8a8a" stroke-width="0.8"/>
<line x1="127.80" y1="221.80" x2="127.80" y2="256.70" stroke="#8a8a8a" stroke-width="0.8"/>
<line x1="158.50" y1="221.80" x2="158.50" y2="256.70" stroke="#8a8a8a" stroke-width="0.8"/>
<line x1="188.60" y1="221.80" x2="188.60" y2="256.70" stroke="#8a8a8a" stroke-width="0.8"/>
<text transform="translate(112.65,228.92) scale(0.900,1)" font-size="7.0" text-anchor="middle" fill="#111" stroke="#111" stroke-width="0.18">G0/G1</text>
<text transform="translate(143.15,228.92) scale(0.900,1)" font-size="7.0" text-anchor="middle" fill="#111" stroke="#111" stroke-width="0.18">S phase</text>
<text transform="translate(173.55,228.92) scale(0.900,1)" font-size="7.0" text-anchor="middle" fill="#111" stroke="#111" stroke-width="0.18">G2/M</text>
<text transform="translate(81.75,237.97) scale(0.900,1)" font-size="7.0" text-anchor="middle" fill="#111" stroke="#111" stroke-width="0.18">MOCK</text>
<text transform="translate(112.65,237.97) scale(1.035,1)" font-size="7.0" text-anchor="middle" fill="#111" stroke="#111" stroke-width="0.18">60.5±1.2</text>
<text transform="translate(143.15,237.97) scale(1.035,1)" font-size="7.0" text-anchor="middle" fill="#111" stroke="#111" stroke-width="0.18">19.8±2.4</text>
<text transform="translate(173.55,237.97) scale(1.035,1)" font-size="7.0" text-anchor="middle" fill="#111" stroke="#111" stroke-width="0.18">19.6±1.8</text>
<text transform="translate(81.75,246.97) scale(0.900,1)" font-size="7.0" text-anchor="middle" fill="#111" stroke="#111" stroke-width="0.18">NegCTR</text>
<text transform="translate(112.65,246.97) scale(1.035,1)" font-size="7.0" text-anchor="middle" fill="#111" stroke="#111" stroke-width="0.18">60.7±1.5</text>
<text transform="translate(143.15,246.97) scale(1.035,1)" font-size="7.0" text-anchor="middle" fill="#111" stroke="#111" stroke-width="0.18">20.9±2.0</text>
<text transform="translate(173.55,246.97) scale(1.035,1)" font-size="7.0" text-anchor="middle" fill="#111" stroke="#111" stroke-width="0.18">18.4±2.1</text>
<text transform="translate(81.75,255.37) scale(0.900,1)" font-size="7.0" text-anchor="middle" fill="#111" stroke="#111" stroke-width="0.18">MYBsiRNA</text>
<text transform="translate(112.65,255.37) scale(1.035,1)" font-size="7.0" text-anchor="middle" fill="#111" stroke="#111" stroke-width="0.18">77.7±2.8</text>
<text transform="translate(143.15,255.37) scale(1.035,1)" font-size="7.0" text-anchor="middle" fill="#111" stroke="#111" stroke-width="0.18">11.8±0.9</text>
<text transform="translate(173.55,255.37) scale(1.035,1)" font-size="7.0" text-anchor="middle" fill="#111" stroke="#111" stroke-width="0.18">10.5±2.0</text>
<line x1="4.00" y1="399.90" x2="253.40" y2="399.90" stroke="#8a8a8a" stroke-width="0.8"/>
<line x1="4.00" y1="408.00" x2="253.40" y2="408.00" stroke="#8a8a8a" stroke-width="0.8"/>
<line x1="4.00" y1="416.10" x2="253.40" y2="416.10" stroke="#8a8a8a" stroke-width="0.8"/>
<line x1="4.00" y1="424.20" x2="253.40" y2="424.20" stroke="#8a8a8a" stroke-width="0.8"/>
<line x1="4.00" y1="432.20" x2="253.40" y2="432.20" stroke="#8a8a8a" stroke-width="0.8"/>
<line x1="4.00" y1="399.90" x2="4.00" y2="432.20" stroke="#8a8a8a" stroke-width="0.8"/>
<line x1="39.30" y1="399.90" x2="39.30" y2="432.20" stroke="#8a8a8a" stroke-width="0.8"/>
<line x1="75.60" y1="399.90" x2="75.60" y2="432.20" stroke="#8a8a8a" stroke-width="0.8"/>
<line x1="111.50" y1="399.90" x2="111.50" y2="432.20" stroke="#8a8a8a" stroke-width="0.8"/>
<line x1="147.20" y1="399.90" x2="147.20" y2="432.20" stroke="#8a8a8a" stroke-width="0.8"/>
<line x1="182.70" y1="399.90" x2="182.70" y2="432.20" stroke="#8a8a8a" stroke-width="0.8"/>
<line x1="217.60" y1="399.90" x2="217.60" y2="432.20" stroke="#8a8a8a" stroke-width="0.8"/>
<line x1="253.40" y1="399.90" x2="253.40" y2="432.20" stroke="#8a8a8a" stroke-width="0.8"/>
<text transform="translate(57.45,406.47) scale(0.830,1)" font-size="7.0" text-anchor="middle" fill="#111" stroke="#111" stroke-width="0.18">BFU-E</text>
<text transform="translate(93.55,406.47) scale(0.830,1)" font-size="7.0" text-anchor="middle" fill="#111" stroke="#111" stroke-width="0.18">CFU-E</text>
<text transform="translate(129.35,406.47) scale(0.830,1)" font-size="7.0" text-anchor="middle" fill="#111" stroke="#111" stroke-width="0.18">CFU-GM</text>
<text transform="translate(164.95,406.47) scale(0.830,1)" font-size="7.0" text-anchor="middle" fill="#111" stroke="#111" stroke-width="0.18">CFU-G</text>
<text transform="translate(200.15,406.47) scale(0.830,1)" font-size="7.0" text-anchor="middle" fill="#111" stroke="#111" stroke-width="0.18">CFU-M</text>
<text transform="translate(235.50,406.47) scale(0.830,1)" font-size="7.0" text-anchor="middle" fill="#111" stroke="#111" stroke-width="0.18">CFU-GEMM</text>
<text transform="translate(21.65,414.57) scale(0.830,1)" font-size="7.0" text-anchor="middle" fill="#111" stroke="#111" stroke-width="0.18">MOCK</text>
<text transform="translate(57.45,414.57) scale(0.954,1)" font-size="7.0" text-anchor="middle" fill="#111" stroke="#111" stroke-width="0.18">48.9±2.9</text>
<text transform="translate(93.55,414.57) scale(0.954,1)" font-size="7.0" text-anchor="middle" fill="#111" stroke="#111" stroke-width="0.18">3.8±0.3</text>
<text transform="translate(129.35,414.57) scale(0.954,1)" font-size="7.0" text-anchor="middle" fill="#111" stroke="#111" stroke-width="0.18">14.2±1.9</text>
<text transform="translate(164.95,414.57) scale(0.954,1)" font-size="7.0" text-anchor="middle" fill="#111" stroke="#111" stroke-width="0.18">16.6±2.7</text>
<text transform="translate(200.15,414.57) scale(0.954,1)" font-size="7.0" text-anchor="middle" fill="#111" stroke="#111" stroke-width="0.18">14.4%±2.5</text>
<text transform="translate(235.50,414.57) scale(0.954,1)" font-size="7.0" text-anchor="middle" fill="#111" stroke="#111" stroke-width="0.18">2.3±0.7</text>
<text transform="translate(21.65,422.67) scale(0.830,1)" font-size="7.0" text-anchor="middle" fill="#111" stroke="#111" stroke-width="0.18">NegCTR</text>
<text transform="translate(57.45,422.67) scale(0.954,1)" font-size="7.0" text-anchor="middle" fill="#111" stroke="#111" stroke-width="0.18">52.6±.3.3</text>
<text transform="translate(93.55,422.67) scale(0.954,1)" font-size="7.0" text-anchor="middle" fill="#111" stroke="#111" stroke-width="0.18">3.8±0.4</text>
<text transform="translate(129.35,422.67) scale(0.954,1)" font-size="7.0" text-anchor="middle" fill="#111" stroke="#111" stroke-width="0.18">12.1±1.3</text>
<text transform="translate(164.95,422.67) scale(0.954,1)" font-size="7.0" text-anchor="middle" fill="#111" stroke="#111" stroke-width="0.18">14.8±3.1</text>
<text transform="translate(200.15,422.67) scale(0.954,1)" font-size="7.0" text-anchor="middle" fill="#111" stroke="#111" stroke-width="0.18">13.9±.1.1</text>
<text transform="translate(235.50,422.67) scale(0.954,1)" font-size="7.0" text-anchor="middle" fill="#111" stroke="#111" stroke-width="0.18">2.8±0.7</text>
<text transform="translate(21.65,430.72) scale(0.830,1)" font-size="7.0" text-anchor="middle" fill="#111" stroke="#111" stroke-width="0.18">MYBsiRNA</text>
<text transform="translate(57.45,430.72) scale(0.954,1)" font-size="7.0" text-anchor="middle" fill="#111" stroke="#111" stroke-width="0.18">14.8±3.0</text>
<text transform="translate(93.55,430.72) scale(0.954,1)" font-size="7.0" text-anchor="middle" fill="#111" stroke="#111" stroke-width="0.18">3.3±0.5</text>
<text transform="translate(129.35,430.72) scale(0.954,1)" font-size="7.0" text-anchor="middle" fill="#111" stroke="#111" stroke-width="0.18">26.1±3.6</text>
<text transform="translate(164.95,430.72) scale(0.954,1)" font-size="7.0" text-anchor="middle" fill="#111" stroke="#111" stroke-width="0.18">16.5±3.3</text>
<text transform="translate(200.15,430.72) scale(0.954,1)" font-size="7.0" text-anchor="middle" fill="#111" stroke="#111" stroke-width="0.18">37.5±3.3</text>
<text transform="translate(235.50,430.72) scale(0.954,1)" font-size="7.0" text-anchor="middle" fill="#111" stroke="#111" stroke-width="0.18">1.8±0.3</text>
<line x1="432.30" y1="22.70" x2="515.50" y2="22.70" stroke="#8a8a8a" stroke-width="0.8"/>
<line x1="432.30" y1="32.40" x2="515.50" y2="32.40" stroke="#8a8a8a" stroke-width="0.8"/>
<line x1="432.30" y1="41.90" x2="515.50" y2="41.90" stroke="#8a8a8a" stroke-width="0.8"/>
<line x1="432.30" y1="51.20" x2="515.50" y2="51.20" stroke="#8a8a8a" stroke-width="0.8"/>
<line x1="432.30" y1="60.40" x2="515.50" y2="60.40" stroke="#8a8a8a" stroke-width="0.8"/>
<line x1="432.30" y1="22.70" x2="432.30" y2="60.40" stroke="#8a8a8a" stroke-width="0.8"/>
<line x1="470.70" y1="22.70" x2="470.70" y2="60.40" stroke="#8a8a8a" stroke-width="0.8"/>
<line x1="515.50" y1="22.70" x2="515.50" y2="60.40" stroke="#8a8a8a" stroke-width="0.8"/>
<text transform="translate(493.10,30.07) scale(1.000,1)" font-size="7.0" text-anchor="middle" fill="#111" stroke="#111" stroke-width="0.18">CFU-MK</text>
<text transform="translate(451.50,39.67) scale(1.000,1)" font-size="7.0" text-anchor="middle" fill="#111" stroke="#111" stroke-width="0.18">MOCK</text>
<text transform="translate(493.10,39.67) scale(1.150,1)" font-size="7.0" text-anchor="middle" fill="#111" stroke="#111" stroke-width="0.18">14.0±2.8</text>
<text transform="translate(451.50,49.07) scale(1.000,1)" font-size="7.0" text-anchor="middle" fill="#111" stroke="#111" stroke-width="0.18">NegCTR</text>
<text transform="translate(493.10,49.07) scale(1.150,1)" font-size="7.0" text-anchor="middle" fill="#111" stroke="#111" stroke-width="0.18">10.7±2.0</text>
<text transform="translate(451.50,58.32) scale(1.000,1)" font-size="7.0" text-anchor="middle" fill="#111" stroke="#111" stroke-width="0.18">MYBsiRNA</text>
<text transform="translate(493.10,58.32) scale(1.150,1)" font-size="7.0" text-anchor="middle" fill="#111" stroke="#111" stroke-width="0.18">53.8±2.6</text>
<line x1="271.20" y1="268.40" x2="515.20" y2="268.40" stroke="#8a8a8a" stroke-width="0.8"/>
<line x1="271.20" y1="287.60" x2="515.20" y2="287.60" stroke="#8a8a8a" stroke-width="0.8"/>
<line x1="271.20" y1="297.30" x2="515.20" y2="297.30" stroke="#8a8a8a" stroke-width="0.8"/>
<line x1="271.20" y1="306.60" x2="515.20" y2="306.60" stroke="#8a8a8a" stroke-width="0.8"/>
<line x1="271.20" y1="315.60" x2="515.20" y2="315.60" stroke="#8a8a8a" stroke-width="0.8"/>
<line x1="271.20" y1="268.40" x2="271.20" y2="315.60" stroke="#8a8a8a" stroke-width="0.8"/>
<line x1="310.50" y1="268.40" x2="310.50" y2="315.60" stroke="#8a8a8a" stroke-width="0.8"/>
<line x1="350.40" y1="268.40" x2="350.40" y2="315.60" stroke="#8a8a8a" stroke-width="0.8"/>
<line x1="391.60" y1="268.40" x2="391.60" y2="315.60" stroke="#8a8a8a" stroke-width="0.8"/>
<line x1="432.50" y1="268.40" x2="432.50" y2="315.60" stroke="#8a8a8a" stroke-width="0.8"/>
<line x1="476.70" y1="268.40" x2="476.70" y2="315.60" stroke="#8a8a8a" stroke-width="0.8"/>
<line x1="515.20" y1="268.40" x2="515.20" y2="315.60" stroke="#8a8a8a" stroke-width="0.8"/>
<text transform="translate(330.45,275.72) scale(1.000,1)" font-size="7.0" text-anchor="middle" fill="#111" stroke="#111" stroke-width="0.18">CFU-MK</text>
<text transform="translate(330.45,285.32) scale(1.000,1)" font-size="7.0" text-anchor="middle" fill="#111" stroke="#111" stroke-width="0.18">&gt;50 cells</text>
<text transform="translate(371.00,275.72) scale(1.000,1)" font-size="7.0" text-anchor="middle" fill="#111" stroke="#111" stroke-width="0.18">CFU-MK</text>
<text transform="translate(371.00,285.32) scale(1.000,1)" font-size="7.0" text-anchor="middle" fill="#111" stroke="#111" stroke-width="0.18">21-49 cells</text>
<text transform="translate(412.05,275.72) scale(1.000,1)" font-size="7.0" text-anchor="middle" fill="#111" stroke="#111" stroke-width="0.18">CFU-MK</text>
<text transform="translate(412.05,285.32) scale(1.000,1)" font-size="7.0" text-anchor="middle" fill="#111" stroke="#111" stroke-width="0.18">3-21 cells</text>
<text transform="translate(454.60,275.72) scale(1.000,1)" font-size="7.0" text-anchor="middle" fill="#111" stroke="#111" stroke-width="0.18">Mixed CFU-</text>
<text transform="translate(454.60,285.32) scale(1.000,1)" font-size="7.0" text-anchor="middle" fill="#111" stroke="#111" stroke-width="0.18">MK/non-MK</text>
<text transform="translate(495.95,275.72) scale(1.000,1)" font-size="7.0" text-anchor="middle" fill="#111" stroke="#111" stroke-width="0.18">CFU-non</text>
<text transform="translate(495.95,285.32) scale(1.000,1)" font-size="7.0" text-anchor="middle" fill="#111" stroke="#111" stroke-width="0.18">MK</text>
<text transform="translate(290.85,294.97) scale(1.000,1)" font-size="7.0" text-anchor="middle" fill="#111" stroke="#111" stroke-width="0.18">MOCK</text>
<text transform="translate(330.45,294.97) scale(1.150,1)" font-size="7.0" text-anchor="middle" fill="#111" stroke="#111" stroke-width="0.18">0.55±0.26</text>
<text transform="translate(371.00,294.97) scale(1.150,1)" font-size="7.0" text-anchor="middle" fill="#111" stroke="#111" stroke-width="0.18">2.45±1.13</text>
<text transform="translate(412.05,294.97) scale(1.150,1)" font-size="7.0" text-anchor="middle" fill="#111" stroke="#111" stroke-width="0.18">11.00±2.44</text>
<text transform="translate(454.60,294.97) scale(1.150,1)" font-size="7.0" text-anchor="middle" fill="#111" stroke="#111" stroke-width="0.18">0.28±0.10</text>
<text transform="translate(495.95,294.97) scale(1.150,1)" font-size="7.0" text-anchor="middle" fill="#111" stroke="#111" stroke-width="0.18">4.78±0.31</text>
<text transform="translate(290.85,304.47) scale(1.000,1)" font-size="7.0" text-anchor="middle" fill="#111" stroke="#111" stroke-width="0.18">NegCTR</text>
<text transform="translate(330.45,304.47) scale(1.150,1)" font-size="7.0" text-anchor="middle" fill="#111" stroke="#111" stroke-width="0.18">0.40±0.18</text>
<text transform="translate(371.00,304.47) scale(1.150,1)" font-size="7.0" text-anchor="middle" fill="#111" stroke="#111" stroke-width="0.18">2.28±0.46</text>
<text transform="translate(412.05,304.47) scale(1.150,1)" font-size="7.0" text-anchor="middle" fill="#111" stroke="#111" stroke-width="0.18">8.05±1.68</text>
<text transform="translate(454.60,304.47) scale(1.150,1)" font-size="7.0" text-anchor="middle" fill="#111" stroke="#111" stroke-width="0.18">0.15±0.19</text>
<text transform="translate(495.95,304.47) scale(1.150,1)" font-size="7.0" text-anchor="middle" fill="#111" stroke="#111" stroke-width="0.18">3.90±1.55</text>
<text transform="translate(290.85,313.62) scale(1.000,1)" font-size="7.0" text-anchor="middle" fill="#111" stroke="#111" stroke-width="0.18">MYBsiRNA</text>
<text transform="translate(330.45,313.62) scale(1.150,1)" font-size="7.0" text-anchor="middle" fill="#111" stroke="#111" stroke-width="0.18">5.45±0.70</text>
<text transform="translate(371.00,313.62) scale(1.150,1)" font-size="7.0" text-anchor="middle" fill="#111" stroke="#111" stroke-width="0.18">28.08±1.55</text>
<text transform="translate(412.05,313.62) scale(1.150,1)" font-size="7.0" text-anchor="middle" fill="#111" stroke="#111" stroke-width="0.18">20.28±3.28</text>
<text transform="translate(454.60,313.62) scale(1.150,1)" font-size="7.0" text-anchor="middle" fill="#111" stroke="#111" stroke-width="0.18">0.25±0.19</text>
<text transform="translate(495.95,313.62) scale(1.150,1)" font-size="7.0" text-anchor="middle" fill="#111" stroke="#111" stroke-width="0.18">4.05±1.75</text>
</svg>
</body></html>
